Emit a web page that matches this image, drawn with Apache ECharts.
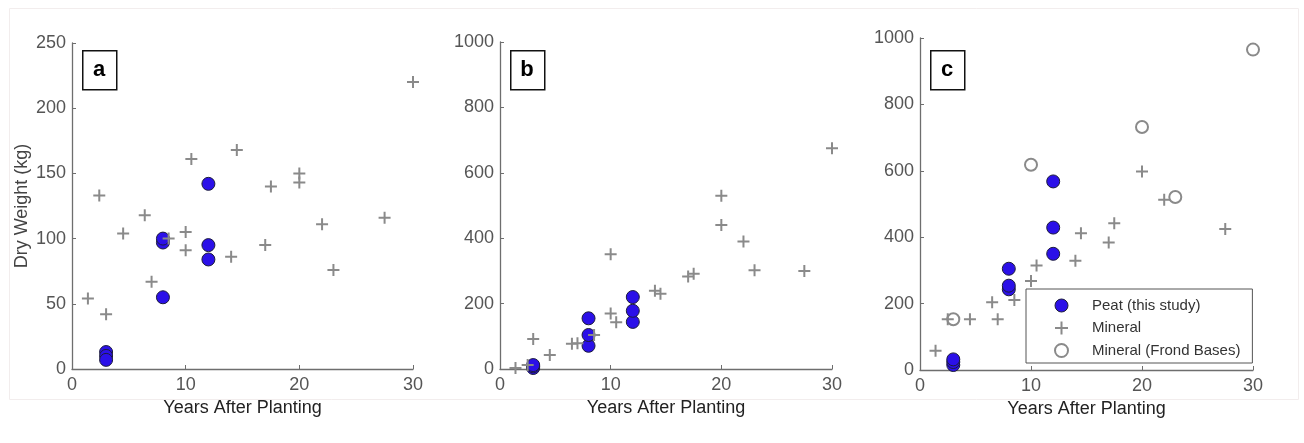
<!DOCTYPE html>
<html>
	<head>
		<title>Dry Weight</title>
		<meta charset="utf-8"/>
		<style type="text/css">
			*{margin: 0;padding: 0;}
			html,body{
				width: 1304px;
				height: 443px;
				background-color: #fff;
			}
			.charts{
				width: 1304px;
				height: 443px;
			}
		</style>
		<script type="text/javascript" src="https://cdn.jsdelivr.net/npm/echarts@6/dist/echarts.min.js"></script>
	</head>
	<body>
		<div class="charts js-main"></div>
		<script type="text/javascript">
			// [years after planting, dry weight kg]
			var peatA=[[3,13],[3,10],[3,7],[8,55],[8,97],[8,100],[12,84],[12,95],[12,142]];
			var mineralA=[[1.4,54],[2.4,133],[3,42],[4.5,104],[6.4,118],[7,67],[8.5,100],[10,91],[10,105],[10.5,161],
				[14,86],[14.5,168],[17,95],[17.5,140],[20,143],[20,150],[22,111],[23,76],[27.5,116],[30,220]];
			var peatB=[[3,3],[3,8],[3,12],[8,71],[8,104],[8,155],[12,144],[12,178],[12,220]];
			var mineralB=[[1.4,3],[2.5,12],[3,92],[4.5,43],[6.5,77],[7,79],[8.5,104],[10,170],[10,351],[10.5,143],
				[14,239],[14.5,230],[17,283],[17.5,291],[20,440],[20,530],[22,390],[23,302],[27.5,300],[30,675]];
			var peatC=[[3,15],[3,24],[3,32],[8,243],[8,254],[8,305],[12,350],[12,429],[12,568]];
			var mineralC=[[1.4,58],[2.5,153],[4.5,153],[6.5,204],[7,153],[8.5,211],[10,268],[10.5,315],[14,329],
				[14.5,412],[17,384],[17.5,442],[20,598],[22,513],[27.5,425]];
			var frondC=[[3,153],[10,618],[20,732],[23,521],[30,965]];
			var yMax=[250,1000,1000],yStep=[50,200,200];
			var panelTags=["a","b","c"];
			var names=["Peat (this study)","Mineral","Mineral (Frond Bases)"];

			var plusPath="path://M0,6L12,6M6,0L6,12";
			var axisGray="#6e6e6e",labelGray="#555",markGray="#8a8a8a";
			var peatStyle={color:"#2b10e8",borderColor:"#1c1c3a",borderWidth:1,opacity:1};
			var plusStyle={color:markGray,borderColor:markGray,borderWidth:2,opacity:1};
			var ringStyle={color:"rgba(0,0,0,0)",borderColor:markGray,borderWidth:2,opacity:1};

			var grids=[
				{left:72,top:43,width:341,height:326},
				{left:500,top:42,width:332,height:327},
				{left:920,top:38,width:333,height:332}
			];

			var xAxes=[],yAxes=[],series=[],graphic=[];
			for(var i=0;i<3;i++){
				xAxes.push({
					gridIndex:i,type:"value",min:0,max:30,interval:10,
					name:"Years After Planting",nameLocation:"middle",nameGap:29,
					nameTextStyle:{color:"#222",fontSize:18,fontFamily:"Liberation Sans"},
					axisLine:{lineStyle:{color:axisGray,width:1.3}},
					axisTick:{inside:true,length:4,lineStyle:{color:axisGray}},
					axisLabel:{color:labelGray,fontSize:18,margin:7,fontFamily:"Liberation Sans"},
					splitLine:{show:false}
				});
				yAxes.push({
					gridIndex:i,type:"value",min:0,max:yMax[i],interval:yStep[i],
					name:i==0?"Dry Weight (kg)":"",nameLocation:"middle",nameGap:41,
					nameTextStyle:{color:"#444",fontSize:18,fontFamily:"Liberation Sans"},
					axisLine:{show:true,lineStyle:{color:axisGray,width:1.3}},
					axisTick:{show:true,inside:true,length:4,lineStyle:{color:axisGray}},
					axisLabel:{color:labelGray,fontSize:18,margin:6,fontFamily:"Liberation Sans",
						formatter:function(v){return String(v);}},
					splitLine:{show:false}
				});
				// panel letter box
				graphic.push({
					type:"rect",left:grids[i].left+10,top:50,z:10,
					shape:{width:34,height:39},
					style:{fill:"#fff",stroke:"#111",lineWidth:1.5}
				});
				graphic.push({
					type:"text",x:grids[i].left+27,y:70,z:11,
					style:{text:panelTags[i],font:"bold 22px Liberation Sans",fill:"#000",align:"center",verticalAlign:"middle"}
				});
			}

			var peatSets=[peatA,peatB,peatC],mineralSets=[mineralA,mineralB,mineralC];
			for(var j=0;j<3;j++){
				series.push({
					name:names[0],type:"scatter",xAxisIndex:j,yAxisIndex:j,
					data:peatSets[j],symbol:"circle",symbolSize:13,itemStyle:peatStyle,z:2
				});
				series.push({
					name:names[1],type:"scatter",xAxisIndex:j,yAxisIndex:j,
					data:mineralSets[j],symbol:plusPath,symbolSize:12,itemStyle:plusStyle,z:3
				});
			}
			series.push({
				name:names[2],type:"scatter",xAxisIndex:2,yAxisIndex:2,
				data:frondC,symbol:"circle",symbolSize:12,itemStyle:ringStyle,z:3
			});

			// faint outer frame of the figure
			graphic.push({
				type:"rect",left:7,top:6,z:-1,silent:true,
				shape:{width:1289,height:391},
				style:{fill:"none",stroke:"#f2eded",lineWidth:1}
			});

			var option={
				animation:false,
				grid:grids,
				xAxis:xAxes,
				yAxis:yAxes,
				legend:{
					orient:"vertical",left:1026,top:289,
					padding:[9,12,5,28],itemWidth:13,itemHeight:13,itemGap:7.5,
					backgroundColor:"#fff",borderColor:"#555",borderWidth:1,
					textStyle:{color:"#333",fontSize:15,fontFamily:"Liberation Sans",padding:[0,0,0,19]},
					data:[
						{name:names[0],icon:"circle",itemStyle:peatStyle},
						{name:names[1],icon:plusPath,itemStyle:plusStyle},
						{name:names[2],icon:"circle",itemStyle:ringStyle}
					]
				},
				graphic:graphic,
				series:series
			};
			var mainChart=echarts.init(document.querySelector(".js-main"));
			mainChart.setOption(option);
		</script>
	</body>
</html>
